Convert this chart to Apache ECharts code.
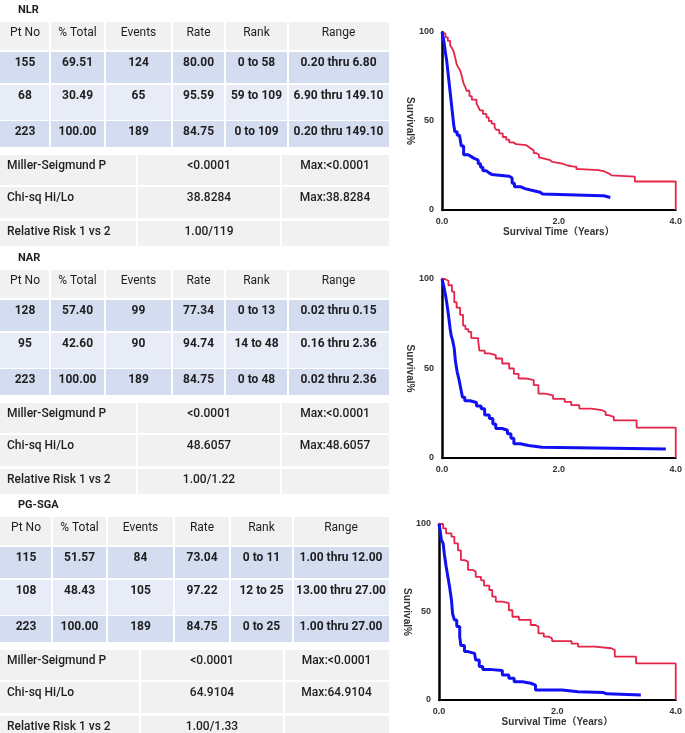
<!DOCTYPE html>
<html><head><meta charset="utf-8">
<script src="https://cdn.jsdelivr.net/npm/echarts/dist/echarts.min.js"></script>
<style>html,body{margin:0;padding:0;background:#fff}#c{width:685px;height:733px}</style>
</head><body><div id="c"></div>
<script>
// ---------- DATA ----------
const tableTitles = ["NLR", "NAR", "PG-SGA"];
const headers = ["Pt No", "% Total", "Events", "Rate", "Rank", "Range"];

const nlrRows = [
  ["155", "69.51", "124", "80.00", "0 to 58", "0.20 thru 6.80"],
  ["68", "30.49", "65", "95.59", "59 to 109", "6.90 thru 149.10"],
  ["223", "100.00", "189", "84.75", "0 to 109", "0.20 thru 149.10"]
];
const nlrStats = [
  ["Miller-Seigmund P", "<0.0001", "Max:<0.0001"],
  ["Chi-sq Hi/Lo", "38.8284", "Max:38.8284"],
  ["Relative Risk 1 vs 2", "1.00/119", ""]
];
const narRows = [
  ["128", "57.40", "99", "77.34", "0 to 13", "0.02 thru 0.15"],
  ["95", "42.60", "90", "94.74", "14 to 48", "0.16 thru 2.36"],
  ["223", "100.00", "189", "84.75", "0 to 48", "0.02 thru 2.36"]
];
const narStats = [
  ["Miller-Seigmund P", "<0.0001", "Max:<0.0001"],
  ["Chi-sq Hi/Lo", "48.6057", "Max:48.6057"],
  ["Relative Risk 1 vs 2", "1.00/1.22", ""]
];
const pgRows = [
  ["115", "51.57", "84", "73.04", "0 to 11", "1.00 thru 12.00"],
  ["108", "48.43", "105", "97.22", "12 to 25", "13.00 thru 27.00"],
  ["223", "100.00", "189", "84.75", "0 to 25", "1.00 thru 27.00"]
];
const pgStats = [
  ["Miller-Seigmund P", "<0.0001", "Max:<0.0001"],
  ["Chi-sq Hi/Lo", "64.9104", "Max:64.9104"],
  ["Relative Risk 1 vs 2", "1.00/1.33", ""]
];

const xTicks = [0, 2, 4];
const yTicks = [0, 50, 100];
const yName = "Survival%";
const xName = "Survival Time（Years）";

// Kaplan-Meier curves [years, survival %]
const nlrLow = [[0,100],[0.03,99],[0.06,97],[0.10,95],[0.14,92.5],[0.17,91],[0.20,89],[0.23,85],[0.25,82],[0.28,80],[0.31,78.5],[0.34,75],[0.37,71],[0.40,69],[0.42,67],[0.47,64],[0.51,62],[0.59,60],[0.62,58],[0.65,56],[0.70,54],[0.76,52],[0.80,50],[0.85,48.5],[0.90,46.5],[0.93,45],[0.98,43],[1.04,41],[1.10,39.5],[1.15,38],[1.22,37],[1.27,36.4],[1.44,35.5],[1.48,34.5],[1.52,33.6],[1.57,32],[1.61,31],[1.66,29.5],[1.69,28.4],[1.80,28],[1.85,27],[1.89,26],[2.06,25],[2.15,24.5],[2.23,24.3],[2.30,23],[2.37,22.4],[2.68,21.5],[2.79,20.6],[2.85,19.5],[2.90,18.7],[3.30,16],[4.0,0]];
const nlrHigh = [[0,100],[0.02,97],[0.04,93],[0.06,88],[0.08,84],[0.10,78],[0.12,72],[0.14,66],[0.16,60],[0.18,54],[0.20,48],[0.22,44],[0.26,42],[0.30,41],[0.33,36],[0.37,31],[0.45,30],[0.50,29],[0.55,28],[0.62,26],[0.66,24],[0.70,22],[0.76,21],[0.80,20],[0.85,19],[1.15,18],[1.20,15],[1.24,13],[1.35,12],[1.42,11],[1.55,10],[1.68,9],[1.72,8],[2.73,8],[2.77,7],[2.88,7]];

const narLow = [[0,100],[0.05,99],[0.11,96.5],[0.17,93],[0.21,87],[0.25,84],[0.31,80],[0.36,74],[0.40,72],[0.45,70.5],[0.50,67],[0.62,65],[0.64,60],[0.73,58.4],[0.81,57.5],[0.92,55.6],[1.03,52.8],[1.15,50],[1.23,47],[1.31,44.4],[1.45,43.5],[1.57,40.7],[1.65,36],[1.76,35],[1.90,33],[2.10,31.3],[2.21,29.5],[2.35,27.6],[2.55,26.7],[2.74,25.7],[2.80,24],[2.85,23],[2.94,21],[3.33,17],[4.0,0]];
const narHigh = [[0,100],[0.03,96],[0.06,91],[0.08,87],[0.11,80],[0.14,72],[0.16,68],[0.18,66],[0.21,61],[0.23,54],[0.26,48],[0.29,44],[0.32,39],[0.35,34],[0.39,32],[0.48,31],[0.59,29],[0.67,27.5],[0.73,24],[0.81,22],[0.87,19],[0.92,16.5],[1.03,15.5],[1.12,13.6],[1.18,11],[1.23,8],[1.34,7],[1.48,6],[1.71,5],[3.83,5]];

const pgLow = [[0,100],[0.07,97.5],[0.12,94.7],[0.21,92.8],[0.26,89],[0.32,85],[0.37,79.5],[0.43,78.6],[0.49,73.9],[0.57,73],[0.62,70],[0.71,68],[0.76,65],[0.85,62.5],[0.90,58.7],[0.96,55.9],[1.07,55],[1.18,51],[1.24,47.3],[1.35,45.5],[1.55,42.6],[1.63,41.7],[1.68,37.9],[1.77,36],[1.85,35],[1.91,33.5],[2.24,32],[2.35,30.3],[2.63,29.4],[2.91,28.4],[2.97,24.6],[3.33,20.8],[4.0,0]];
const pgHigh = [[0,100],[0.02,96],[0.04,91],[0.07,89],[0.09,83],[0.12,76],[0.15,70],[0.18,64],[0.21,57],[0.23,49],[0.26,45.5],[0.30,41.7],[0.35,36],[0.37,31],[0.43,27.5],[0.49,26.5],[0.60,25.6],[0.62,22.7],[0.68,19],[0.74,17.4],[0.85,16.7],[1.07,14.2],[1.18,12.3],[1.27,10.4],[1.41,9.5],[1.55,8.5],[1.63,5.7],[2.08,4.7],[2.35,4.2],[2.78,3.5],[2.83,2.8],[3.41,2.8]];

// ---------- LAYOUT / STYLE ----------
const FONT = '"Roboto", "Liberation Sans", sans-serif';
const TXT = '#1e1e1e';
const headerBg = '#f1f1f1', rowBg = ['#d3ddef', '#e7ecf6', '#d3ddef'], statBg = '#f1f1f1';
const layouts = [
  {dy: 0,   cols: [0,50,105,172,225,288,389], scols: [0,137,281,389]},
  {dy: 248, cols: [0,50,105,172,225,288,389], scols: [0,137,281,389]},
  {dy: 495, cols: [0,52,107,174,230,293,389], scols: [0,140,284,389]}
];
const headRect = [22, 28];
const rowRects = [[52, 31], [85, 35], [121, 26]];
const statRects = [[155, 30], [187, 31], [221, 25]];

function cellRect(x0, x1, y, h, fill, first, last) {
  const a = first ? x0 : x0 + 1, b = last ? x1 : x1 - 1;
  return {type: 'rect', silent: true, shape: {x: a, y: y, width: b - a, height: h}, style: {fill: fill}};
}
function txt(x, y, s, weight, size, align) {
  return {type: 'text', silent: true, x: x, y: y,
    style: {text: s, fill: TXT, font: weight + ' ' + size + 'px ' + FONT,
      align: align || 'center', verticalAlign: 'middle', textAlign: align || 'center', textVerticalAlign: 'middle'}};
}

const tableData = [[nlrRows, nlrStats], [narRows, narStats], [pgRows, pgStats]];
const graphics = [];
tableData.forEach((td, t) => {
  const L = layouts[t], dy = L.dy, c = L.cols, sc = L.scols;
  graphics.push(txt(18, 10 + dy, tableTitles[t], 'bold', 11, 'left'));
  for (let i = 0; i < 6; i++) {
    graphics.push(cellRect(c[i], c[i+1], headRect[0] + dy, headRect[1], headerBg, i === 0, i === 5));
    graphics.push(txt((c[i] + c[i+1]) / 2, headRect[0] + dy + 10.5, headers[i], 'normal', 12));
  }
  td[0].forEach((row, r) => {
    const [ry, rh] = rowRects[r];
    for (let i = 0; i < 6; i++) {
      graphics.push(cellRect(c[i], c[i+1], ry + dy, rh, rowBg[r], i === 0, i === 5));
      graphics.push(txt((c[i] + c[i+1]) / 2, ry + dy + 10.5, row[i], 'bold', 12));
    }
  });
  td[1].forEach((row, r) => {
    const [ry, rh] = statRects[r];
    for (let i = 0; i < 3; i++) {
      graphics.push(cellRect(sc[i], sc[i+1], ry + dy, rh, statBg, i === 0, i === 2));
    }
    graphics.push(txt(7, ry + dy + 11, row[0], '500', 12, 'left'));
    graphics.push(txt((sc[1] + sc[2]) / 2, ry + dy + 11, row[1], '500', 12));
    if (row[2]) graphics.push(txt((sc[2] + sc[3]) / 2, ry + dy + 11, row[2], '500', 12));
  });
});

const grids = [
  {left: 442, top: 32, width: 236, height: 178},
  {left: 442, top: 279, width: 238, height: 179},
  {left: 439, top: 524, width: 239, height: 176}
];
const showXName = [true, false, true];
const curves = [[nlrLow, nlrHigh], [narLow, narHigh], [pgLow, pgHigh]];

const axisLabelStyle = {fontSize: 9, fontWeight: 'bold', color: '#333', fontFamily: 'Arial, "Liberation Sans", sans-serif'};
const xAxes = grids.map((g, i) => ({
  gridIndex: i, type: 'value', min: xTicks[0], max: xTicks[xTicks.length - 1], interval: xTicks[1] - xTicks[0],
  axisLine: {show: true, onZero: false, lineStyle: {color: '#000', width: 2}},
  axisTick: {show: false}, splitLine: {show: false},
  axisLabel: Object.assign({margin: 7, formatter: v => v.toFixed(1)}, axisLabelStyle),
  name: showXName[i] ? xName : '', nameLocation: 'middle', nameGap: 17,
  nameTextStyle: {fontSize: 10, fontWeight: 'bold', color: '#333', fontFamily: 'Arial, "Liberation Sans", "Noto Sans CJK SC", sans-serif'}
}));
const yAxes = grids.map((g, i) => ({
  gridIndex: i, type: 'value', min: yTicks[0], max: yTicks[yTicks.length - 1], interval: yTicks[1] - yTicks[0],
  axisLine: {show: true, onZero: false, lineStyle: {color: '#000', width: 2.5}},
  axisTick: {show: false}, splitLine: {show: false},
  axisLabel: Object.assign({margin: 8}, axisLabelStyle),
  name: yName, nameLocation: 'middle', nameRotate: -90, nameGap: 23,
  nameTextStyle: {fontSize: 10, fontWeight: 'bold', color: '#333', fontFamily: 'Arial, "Liberation Sans", sans-serif'}
}));
const series = [];
curves.forEach((pair, i) => {
  series.push({type: 'line', xAxisIndex: i, yAxisIndex: i, data: pair[0], step: 'end', symbol: 'none', clip: false,
    lineStyle: {color: '#e6244a', width: 1.8}, z: 3});
  series.push({type: 'line', xAxisIndex: i, yAxisIndex: i, data: pair[1], step: 'end', symbol: 'none', clip: false,
    lineStyle: {color: '#1010f2', width: 3}, z: 4});
});

const chart = echarts.init(document.getElementById('c'), null, {renderer: 'canvas'});
chart.setOption({
  animation: false,
  backgroundColor: '#fff',
  grid: grids,
  xAxis: xAxes,
  yAxis: yAxes,
  series: series,
  graphic: graphics
});
</script></body></html>
